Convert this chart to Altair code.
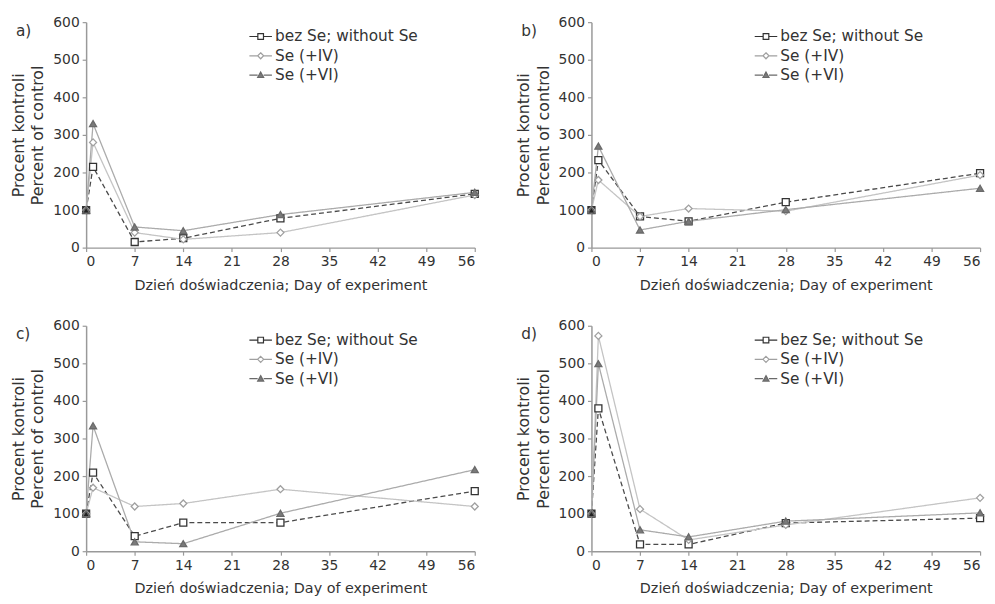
import altair as alt
import pandas as pd

days = [0, 1, 7, 14, 28, 56]
series_names = ["bez Se; without Se", "Se (+IV)", "Se (+VI)"]

a_bez = [100, 215, 15, 25, 78, 143]
a_iv = [100, 280, 40, 22, 40, 140]
a_vi = [100, 330, 55, 45, 88, 147]

b_bez = [100, 233, 83, 70, 121, 198]
b_iv = [100, 180, 83, 104, 97, 193]
b_vi = [100, 270, 47, 70, 101, 158]

c_bez = [100, 209, 40, 76, 76, 160]
c_iv = [100, 169, 119, 127, 165, 119]
c_vi = [100, 334, 25, 20, 101, 217]

d_bez = [100, 380, 18, 18, 75, 88]
d_iv = [100, 573, 112, 30, 70, 142]
d_vi = [100, 499, 57, 38, 80, 102]

panel_labels = ["a)", "b)", "c)", "d)"]
panel_values = [
    [a_bez, a_iv, a_vi],
    [b_bez, b_iv, b_vi],
    [c_bez, c_iv, c_vi],
    [d_bez, d_iv, d_vi],
]

x_ticks = [0, 7, 14, 21, 28, 35, 42, 49, 56]
y_ticks = [0, 100, 200, 300, 400, 500, 600]
x_title = "Dzień doświadczenia; Day of experiment"
y_title = ["Procent kontroli", "Percent of control"]

line_colors = ["#4a4a4a", "#c4c4c4", "#ababab"]
line_dashes = [[5, 3], [1, 0], [1, 0]]
marker_strokes = ["#333333", "#a0a0a0", "#6a6a6a"]
marker_fills = ["#ffffff", "#ffffff", "#7a7a7a"]
marker_shapes = ["square", "diamond", "triangle-up"]
legend_paths = [
    "M-1.2,0H-0.3M0.3,0H1.2M-0.3,-0.3H0.3V0.3H-0.3Z",
    "M-1.2,0H-0.32M0.32,0H1.2M0,-0.32L0.32,0L0,0.32L-0.32,0Z",
    "M-1.2,0H-0.32M0.32,0H1.2M0,-0.32L0.32,0.26H-0.32Z",
]

FONT = "DejaVu Sans"


def panel(label, values):
    rows = []
    for s, vals in zip(series_names, values):
        for d, v in zip(days, vals):
            rows.append({"day": d, "value": v, "series": s})
    df = pd.DataFrame(rows)

    x = alt.X(
        "day:Q",
        scale=alt.Scale(domain=[0, 56], nice=False, zero=False),
        axis=alt.Axis(values=x_ticks, title=x_title, format="d"),
    )
    y = alt.Y(
        "value:Q",
        scale=alt.Scale(domain=[0, 600], nice=False),
        axis=alt.Axis(values=y_ticks, title=y_title),
    )
    base = alt.Chart(df)

    lines = base.mark_line(strokeWidth=1.3).encode(
        x=x,
        y=y,
        color=alt.Color("series:N", scale=alt.Scale(domain=series_names, range=line_colors), legend=None),
        strokeDash=alt.StrokeDash("series:N", scale=alt.Scale(domain=series_names, range=line_dashes), legend=None),
    )

    points = base.mark_point(filled=False, size=50, strokeWidth=1.3, opacity=1).encode(
        x=x,
        y=y,
        shape=alt.Shape("series:N", scale=alt.Scale(domain=series_names, range=marker_shapes), legend=None),
        color=alt.Color("series:N", scale=alt.Scale(domain=series_names, range=marker_strokes), legend=None),
        fill=alt.condition(
            "datum.day == 0",
            alt.value("#222222"),
            alt.Fill("series:N", scale=alt.Scale(domain=series_names, range=marker_fills), legend=None),
        ),
    )

    leg = alt.Legend(
        title=None,
        orient="none",
        legendX=166,
        legendY=4,
        labelFontSize=15.5,
        labelColor="#333333",
        labelFont=FONT,
        symbolSize=361,
        symbolStrokeWidth=1.2,
        rowPadding=0.5,
        labelOffset=4,
    )
    legend_layer = base.transform_filter("false").mark_point(filled=False, opacity=1).encode(
        x=x,
        y=y,
        shape=alt.Shape("series:N", scale=alt.Scale(domain=series_names, range=legend_paths), legend=leg),
        color=alt.Color("series:N", scale=alt.Scale(domain=series_names, range=marker_strokes), legend=leg),
        fill=alt.Fill("series:N", scale=alt.Scale(domain=series_names, range=marker_fills), legend=leg),
    )

    return (
        alt.layer(lines, points, legend_layer)
        .resolve_scale(color="independent", shape="independent", fill="independent", strokeDash="independent")
        .properties(
            width=393,
            height=228,
            title=alt.TitleParams(
                label,
                anchor="start",
                frame="group",
                orient="top",
                fontSize=15.5,
                fontWeight="normal",
                font=FONT,
                color="#333333",
                dx=-71,
                dy=24,
                offset=0,
            ),
        )
    )


p = [panel(l, v) for l, v in zip(panel_labels, panel_values)]
row1 = alt.hconcat(p[0], p[1], spacing=34)
row2 = alt.hconcat(p[2], p[3], spacing=34)
chart = (
    alt.vconcat(row1, row2, spacing=27)
    .properties(padding={"left": 2, "top": 4, "right": 0, "bottom": 0})
    .configure_view(stroke=None)
    .configure_axis(
        domainColor="#999999",
        domainWidth=1.5,
        tickColor="#999999",
        tickSize=4,
        tickWidth=1.2,
        grid=False,
        labelFont=FONT,
        labelFontSize=14,
        labelColor="#333333",
        titleFont=FONT,
        titleColor="#333333",
        titleFontWeight="normal",
        labelPadding=3,
    )
    .configure_axisY(titlePadding=7, titleLineHeight=20, titleFontSize=16)
    .configure_axisX(titlePadding=10, titleFontSize=14.5)
)

chart.save("out.html", embed_options={"renderer": "svg", "actions": False})
